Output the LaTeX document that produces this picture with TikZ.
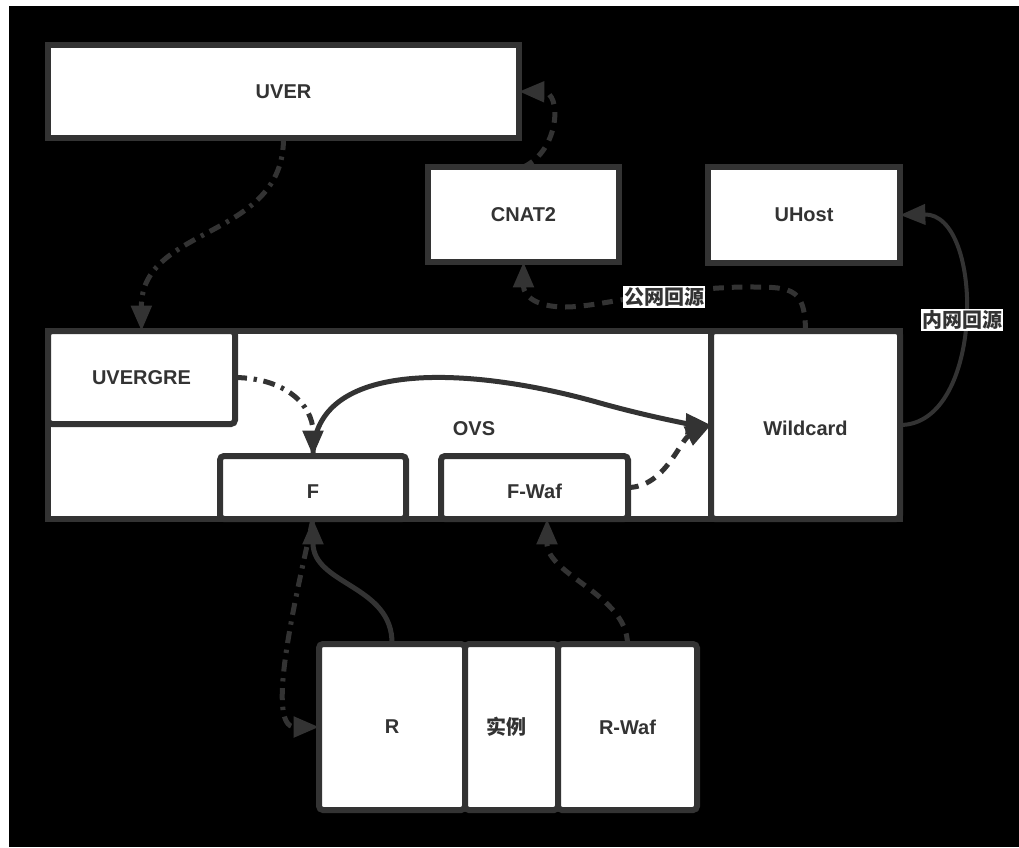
\documentclass[tikz,border=0pt]{standalone}
\usepackage{fontspec}
\setmainfont{Liberation Sans}
\newfontfamily\cjk{Noto Sans CJK SC}
\usetikzlibrary{arrows.meta,calc}
\definecolor{ink}{HTML}{333333}
\begin{document}
\begin{tikzpicture}[x=0.75pt,y=-0.75pt,
  box/.style={draw=ink, line width=4.5pt, fill=white, inner sep=0pt, outer sep=0pt,
    font=\fontsize{15}{18}\selectfont\bfseries, text=ink},
  rbox/.style={box, rounded corners=3pt},
  conn/.style={draw=ink, line width=3.75pt, -{Triangle[length=19pt,width=15pt]}},
  thinconn/.style={conn, line width=3pt},
  dashedc/.style={conn, dash pattern=on 8pt off 6pt},
  dashdot/.style={conn, dash pattern=on 9pt off 5pt on 2.5pt off 5pt},
  lbl/.style={fill=white, text=ink, inner sep=1pt, font=\cjk\fontsize{15}{18}\selectfont\bfseries}]
\useasboundingbox (0,0) rectangle (1019,847);
\fill[white] (0,0) rectangle (1019,847);
\fill[black] (9,6) rectangle (1019,847);

% boxes
\node[box, minimum width=471*0.75pt, minimum height=93*0.75pt] (uver) at (283.5,91.5) {UVER};
\node[box, minimum width=191*0.75pt, minimum height=95*0.75pt] (cnat) at (523.5,214.5) {CNAT2};
\node[box, minimum width=192*0.75pt, minimum height=96*0.75pt] (uhost) at (804,215) {UHost};
\node[box, minimum width=852*0.75pt, minimum height=188*0.75pt, text height=15pt, text depth=0pt] (ovs) at (474,425) {OVS};
\node[rbox, minimum width=189*0.75pt, minimum height=188*0.75pt, text height=15pt, text depth=0pt] (wild) at (805.5,425) {Wildcard};
\node[rbox, minimum width=187*0.75pt, minimum height=93*0.75pt] (uvergre) at (141.5,377.5) {UVERGRE};
\node[rbox, minimum width=186*0.75pt, minimum height=63*0.75pt, text height=17pt, text depth=0pt] (f) at (313,487.5) {F};
\node[rbox, minimum width=187*0.75pt, minimum height=63*0.75pt, text height=17pt, text depth=0pt] (fwaf) at (534.5,487.5) {F-Waf};
\node[rbox, minimum width=146*0.75pt, minimum height=166*0.75pt] (r) at (392,727) {R};
\node[rbox, minimum width=93*0.75pt, minimum height=166*0.75pt, font=\cjk\fontsize{15}{18}\selectfont\bfseries] (inst) at (511.5,727) {实例\hspace*{7pt}};
\node[rbox, minimum width=139*0.75pt, minimum height=166*0.75pt] (rwaf) at (627.5,727) {R-Waf};

% connectors
\draw[dashdot] (uver.south) .. controls (284,240) and (141,225) .. (uvergre.north);
\draw[dashedc] (cnat.north) .. controls (560,150) and (562,92) .. (uver.east);
\draw[dashedc] (wild.north) .. controls (805,285) and (790,287) .. (740,287)
   .. controls (650,290) and (600,307) .. (565,307)
   .. controls (535,307) and (523.5,295) .. (cnat.south);
\node[lbl] (pub) at (664,297) {公网回源};
\draw[thinconn] (wild.east) .. controls (985,425) and (985,213) .. (uhost.east);
\node[lbl] (priv) at (962,320) {内网回源};
\draw[dashdot] (uvergre.east) .. controls (285,378) and (313,405) .. (f.north);
\draw[conn] (f.north) .. controls (313,358) and (470,366) .. (600,403)
   .. controls (650,417) and (690,424) .. (wild.west);
\draw[dashedc] (fwaf.east) .. controls (665,487) and (680,440) .. (wild.west);
\draw[dashedc] (rwaf.north) .. controls (627,595) and (547,575) .. ($(fwaf.south)+(12.5,0)$);
\draw[conn] (r.north) .. controls (393,585) and (313,585) .. (f.south);
\draw[dashdot] (f.south) .. controls (295,600) and (265,727) .. (r.west);
\end{tikzpicture}
\end{document}
